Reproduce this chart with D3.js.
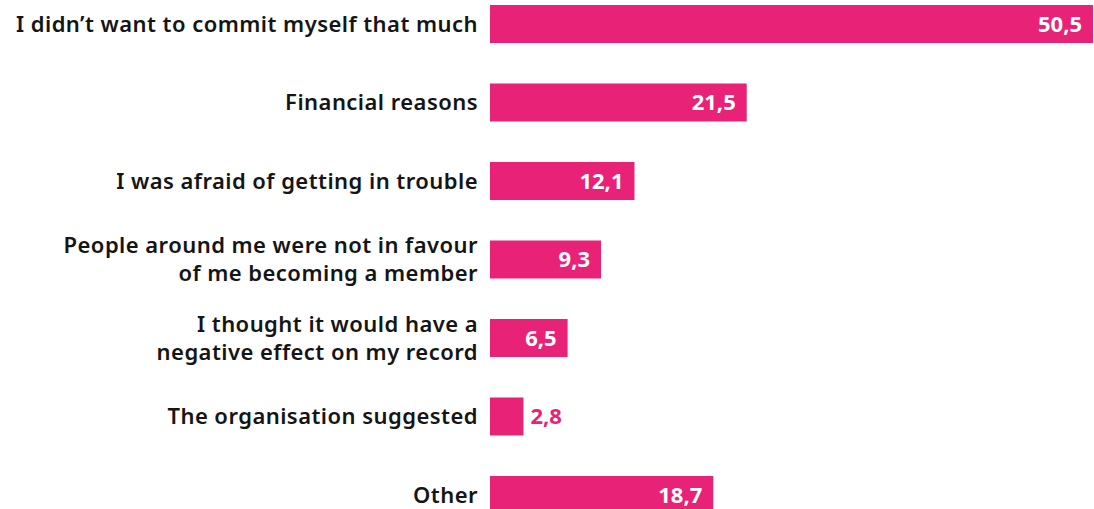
<!DOCTYPE html>
<html>
<head>
<meta charset="utf-8">
<script src="https://cdn.jsdelivr.net/npm/d3@7"></script>
<style>
  html, body { margin: 0; padding: 0; background: #fff; }
  svg { display: block; }
</style>
</head>
<body>
<svg id="chart" width="1094" height="509"></svg>
<script>
// Reasons for not becoming a member (%)
const categories = [
  ["I didn\u2019t want to commit myself that much"],
  ["Financial reasons"],
  ["I was afraid of getting in trouble"],
  ["People around me were not in favour", "of me becoming a member"],
  ["I thought it would have a", "negative effect on my record"],
  ["The organisation suggested"],
  ["Other"]
];
const values = [50.5, 21.5, 12.1, 9.3, 6.5, 2.8, 18.7];
const valueLabels = ["50,5", "21,5", "12,1", "9,3", "6,5", "2,8", "18,7"];

const barColor = "#e72277";
const svg = d3.select("#chart");

const ids = categories.map((c, i) => i);
const step = 78.5, pad = 0.516;
const y = d3.scaleBand()
  .domain(ids)
  .range([5 - step * pad / 2, 5 - step * pad / 2 + step * ids.length])
  .paddingInner(pad)
  .paddingOuter(pad / 2);

const x0 = 490;
const x = d3.scaleLinear().domain([0, 50.5]).range([x0, 1093]);

const g = svg.append("g");

g.selectAll("rect.bar")
  .data(ids)
  .join("rect")
  .attr("class", "bar")
  .attr("x", x(0))
  .attr("y", i => y(i))
  .attr("width", i => x(values[i]) - x(0))
  .attr("height", y.bandwidth())
  .attr("fill", barColor);

// value labels: inside the bar when it is wide enough, otherwise just after it
g.selectAll("text.val")
  .data(ids)
  .join("text")
  .attr("class", "val")
  .attr("x", i => values[i] > 4 ? x(values[i]) - 11 : x(values[i]) + 7)
  .attr("y", i => y(i) + y.bandwidth() / 2)
  .attr("dy", "0.36em")
  .attr("text-anchor", i => values[i] > 4 ? "end" : "start")
  .attr("fill", i => values[i] > 4 ? "#fff" : barColor)
  .style("font-family", "'Open Sans', sans-serif")
  .style("font-weight", 700)
  .style("font-size", "22px")
  .text(i => valueLabels[i]);

// category labels, right-aligned against the bars
const lineH = 28;
const cat = g.selectAll("text.cat")
  .data(ids)
  .join("text")
  .attr("class", "cat")
  .attr("x", 478)
  .attr("text-anchor", "end")
  .attr("fill", "#151515")
  .style("font-family", "'Noto Sans', sans-serif")
  .style("font-weight", 600)
  .style("font-size", "22px")
  .style("letter-spacing", "0.45px");

cat.each(function(i) {
  const lines = categories[i];
  const cy = y(i) + y.bandwidth() / 2;
  const top = cy - (lines.length - 1) * lineH / 2;
  d3.select(this).selectAll("tspan")
    .data(lines)
    .join("tspan")
    .attr("x", 478)
    .attr("y", (d, k) => top + k * lineH)
    .attr("dy", "0.35em")
    .text(d => d);
});
</script>
</body>
</html>
